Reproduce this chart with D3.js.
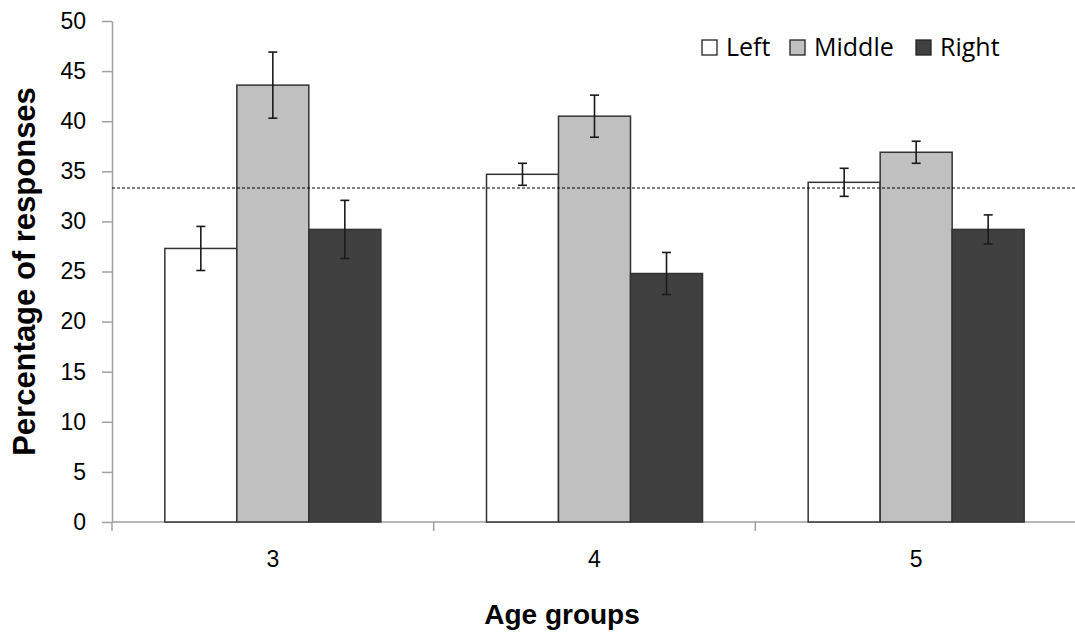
<!DOCTYPE html>
<html>
<head>
<meta charset="utf-8">
<script src="https://cdn.jsdelivr.net/npm/d3@7"></script>
<style>
  html, body { margin: 0; padding: 0; background: #fff; }
  svg { display: block; }
</style>
</head>
<body>
<svg id="chart" width="1075" height="637"></svg>
<script>
// data
const ageGroups = ["3", "4", "5"];
const sides = ["Left", "Middle", "Right"];
const leftMean = [27.3, 34.7, 33.9];
const leftErr = [2.2, 1.1, 1.4];
const middleMean = [43.6, 40.5, 36.9];
const middleErr = [3.3, 2.1, 1.1];
const rightMean = [29.2, 24.8, 29.2];
const rightErr = [2.9, 2.1, 1.45];
const chanceLevel = 100 / 3;
const yTicks = [0, 5, 10, 15, 20, 25, 30, 35, 40, 45, 50];

const sideColors = { Left: "#ffffff", Middle: "#c0c0c0", Right: "#404040" };

let rows = [];
ageGroups.forEach(function (g, i) {
    rows.push({ group: g, side: "Left", v: leftMean[i], e: leftErr[i] });
    rows.push({ group: g, side: "Middle", v: middleMean[i], e: middleErr[i] });
    rows.push({ group: g, side: "Right", v: rightMean[i], e: rightErr[i] });
});

const svg = d3.select("#chart");
const plotLeft = 112, plotRight = 1077, plotTop = 21, plotBottom = 522;

const x0 = d3.scaleBand()
    .domain(ageGroups)
    .range([plotLeft, plotRight])
    .paddingInner(0)
    .paddingOuter(0);

const groupWidth = 216;
const x1 = d3.scaleBand()
    .domain(sides)
    .range([0, groupWidth]);

const y = d3.scaleLinear()
    .domain([0, 50])
    .range([plotBottom, plotTop]);

const axisColor = "#a0a0a0";
const tickFont = "Liberation Sans, Arial, sans-serif";

// y axis
const yAxis = svg.append("g")
    .attr("transform", `translate(${plotLeft},0)`)
    .call(d3.axisLeft(y).tickValues(yTicks).tickSize(10).tickPadding(16).tickSizeOuter(0));
yAxis.select(".domain").attr("stroke", axisColor).attr("stroke-width", 1.5);
yAxis.selectAll(".tick line").attr("stroke", axisColor).attr("stroke-width", 1.5);
yAxis.selectAll(".tick text")
    .attr("font-family", tickFont)
    .attr("font-size", 23)
    .attr("fill", "#000");

// x axis: ticks sit on the band edges
const xAxis = svg.append("g").attr("transform", `translate(0,${plotBottom})`);
xAxis.append("line")
    .attr("x1", plotLeft).attr("x2", 1075)
    .attr("y1", 0).attr("y2", 0)
    .attr("stroke", axisColor).attr("stroke-width", 1.5);
const edges = ageGroups.map(g => x0(g));
xAxis.selectAll("line.edge")
    .data(edges)
    .enter().append("line")
    .attr("class", "edge")
    .attr("x1", d => d).attr("x2", d => d)
    .attr("y1", 0).attr("y2", 9)
    .attr("stroke", axisColor).attr("stroke-width", 1.5);
xAxis.selectAll("text")
    .data(ageGroups)
    .enter().append("text")
    .attr("x", d => x0(d) + x0.bandwidth() / 2)
    .attr("y", 45)
    .attr("text-anchor", "middle")
    .attr("font-family", tickFont)
    .attr("font-size", 23)
    .text(d => d);

// bars
const offset = (x0.bandwidth() - groupWidth) / 2;
const bars = svg.append("g");
bars.selectAll("rect")
    .data(rows)
    .enter().append("rect")
    .attr("x", d => x0(d.group) + offset + x1(d.side))
    .attr("y", d => y(d.v))
    .attr("width", x1.bandwidth())
    .attr("height", d => y(0) - y(d.v))
    .attr("fill", d => sideColors[d.side])
    .attr("stroke", "#333")
    .attr("stroke-width", 1.5);

// error bars
const errs = svg.append("g").attr("stroke", "#1a1a1a").attr("stroke-width", 1.6);
rows.forEach(function (d) {
    let cx = x0(d.group) + offset + x1(d.side) + x1.bandwidth() / 2;
    errs.append("line")
        .attr("x1", cx).attr("x2", cx)
        .attr("y1", y(d.v + d.e)).attr("y2", y(d.v - d.e));
    [d.v + d.e, d.v - d.e].forEach(function (t) {
        errs.append("line")
            .attr("x1", cx - 4.5).attr("x2", cx + 4.5)
            .attr("y1", y(t)).attr("y2", y(t));
    });
});

// chance level
svg.append("line")
    .attr("x1", plotLeft).attr("x2", 1075)
    .attr("y1", y(chanceLevel)).attr("y2", y(chanceLevel))
    .attr("stroke", "#000")
    .attr("stroke-width", 1.2)
    .attr("stroke-dasharray", "3,2");

// legend
const legendX = [702, 790, 916];
const legend = svg.append("g");
sides.forEach(function (s, i) {
    legend.append("rect")
        .attr("x", legendX[i]).attr("y", 40)
        .attr("width", 15).attr("height", 15)
        .attr("fill", sideColors[s])
        .attr("stroke", "#222").attr("stroke-width", 1.3);
    legend.append("text")
        .attr("x", legendX[i] + 24).attr("y", 56)
        .attr("font-family", "Open Sans, sans-serif")
        .attr("font-size", 25)
        .text(s);
});

// axis titles
svg.append("text")
    .attr("transform", `translate(35,${(plotTop + plotBottom) / 2}) rotate(-90)`)
    .attr("text-anchor", "middle")
    .attr("font-family", tickFont)
    .attr("font-weight", "bold")
    .attr("font-size", 31)
    .text("Percentage of responses");

svg.append("text")
    .attr("x", 562)
    .attr("y", 624)
    .attr("text-anchor", "middle")
    .attr("font-family", tickFont)
    .attr("font-weight", "bold")
    .attr("font-size", 28)
    .text("Age groups");
</script>
</body>
</html>
